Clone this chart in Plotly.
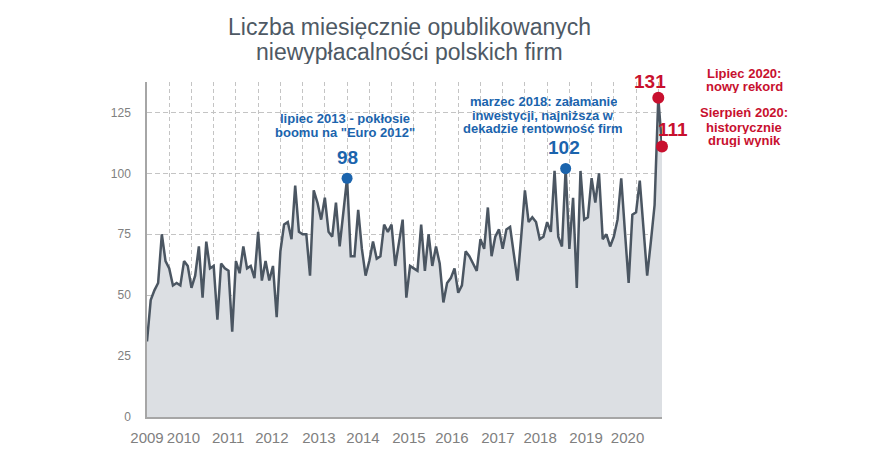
import plotly.graph_objects as go

# Monthly number of published insolvencies, Jan 2009 .. Aug 2020
values = [
    31, 48, 52, 55, 75, 64, 61, 54, 55, 54, 64, 62, 53, 58, 70, 49, 72, 61, 62, 40, 63, 61, 60, 35,
    64, 59, 70, 61, 62, 57, 76, 56, 64, 56, 62, 41, 68, 79, 80, 73, 95, 76, 75, 75, 58, 93, 88,
    81, 90, 76, 74, 88, 70, 84, 98, 66, 66, 85, 69, 58, 64, 72, 65, 66, 79, 76, 79, 62, 72, 81, 49,
    62, 61, 60, 79, 60, 75, 62, 70, 63, 47, 55, 57, 61, 51, 54, 68, 66, 63, 60, 73, 69, 86, 66, 74,
    77, 69, 77, 78, 67, 56,
    74, 93, 80, 82, 80, 73, 74, 80, 76, 101, 74, 70, 102, 69, 90, 53, 101, 81, 82, 98, 88, 100, 73,
    75, 70, 74, 81, 98, 76, 55, 83, 84, 97, 76, 58, 72, 87, 131, 111,
]
months = list(range(len(values)))

year_labels = ["2009", "2010", "2011", "2012", "2013", "2014", "2015", "2016",
               "2017", "2018", "2019", "2020"]
year_label_pos = [0, 9.85, 21.9, 33.7, 46.4, 58.3, 70.7, 82.3, 94.7, 106.1, 118.5, 129.7]

y_ticks = [0, 25, 50, 75, 100, 125]

blue_idx = [54, 113]          # lipiec 2013, marzec 2018
blue_labels = ["98", "102"]
red_idx = [138, 139]          # lipiec 2020, sierpień 2020
red_labels = ["131", "111"]

title_lines = ["Liczba miesięcznie opublikowanych", "niewypłacalności polskich firm"]
note_2013 = ["lipiec 2013 - pokłosie", "boomu na \"Euro 2012\""]
note_2018 = ["marzec 2018: załamanie", "inwestycji, najniższa w", "dekadzie rentowność firm"]
note_jul20 = ["Lipiec 2020:", "nowy rekord"]
note_aug20 = ["Sierpień 2020:", "historycznie", "drugi wynik"]

BLUE = "#1b64ad"
RED = "#c8102e"
LINE = "#4b5662"
FILL = "#dcdfe3"
GRID = "#c4c4c4"
AXIS = "#a6a6a6"
TXT = "#808080"
FONT = "Liberation Sans, Arial, sans-serif"

# the page body has an 8px margin, so the figure is drawn 8px right/down
OFF = 8
W, H = 896 - OFF, 472 - OFF
ML, MT = 147 - OFF, 82 - OFF
MR = W - (662 - OFF)
MB = H - (417 - OFF)
PW = W - ML - MR
PH = H - MT - MB


def pp(x, y):
    """screen pixel -> paper coordinates"""
    x -= OFF
    y -= OFF
    return (x - ML) / PW, (H - MB - y) / PH


fig = go.Figure()
fig.add_trace(go.Scatter(
    x=months, y=values, mode="lines", fill="tozeroy",
    fillcolor=FILL, line=dict(color=LINE, width=2.5), hoverinfo="skip",
))
fig.add_trace(go.Scatter(
    x=blue_idx, y=[values[i] for i in blue_idx], mode="markers",
    marker=dict(color=BLUE, size=11), cliponaxis=False, hoverinfo="skip",
))
fig.add_trace(go.Scatter(
    x=red_idx, y=[values[i] for i in red_idx], mode="markers",
    marker=dict(color=RED, size=12), cliponaxis=False, hoverinfo="skip",
))

ann = []
# title
for line, yc in zip(title_lines, [27, 52]):
    x, y = pp(409, yc)
    ann.append(dict(text=line, x=x, y=y, xref="paper", yref="paper", showarrow=False,
                    xanchor="center", yanchor="middle", height=24,
                    font=dict(family=FONT, size=23, color="#4e5964")))


def block(lines, xc, ys, color):
    for line, yc in zip(lines, ys):
        x, y = pp(xc, yc)
        ann.append(dict(text="<b>%s</b>" % line, x=x, y=y, xref="paper", yref="paper",
                        showarrow=False, xanchor="center", yanchor="middle", height=13,
                        font=dict(family=FONT, size=13, color=color)))


block(note_2013, 345, [118, 132], BLUE)
block(note_2018, 543, [102, 115, 128.5], BLUE)
block(note_jul20, 744, [73, 86], RED)
block(note_aug20, 744, [113, 127, 140.5], RED)

shifts = {54: (0, 21), 113: (-2, 21), 138: (-8, 16), 139: (11, 17)}
for idx_list, labels, color in [(blue_idx, blue_labels, BLUE), (red_idx, red_labels, RED)]:
    for i, lab in zip(idx_list, labels):
        xs, ys = shifts[i]
        ann.append(dict(text="<b>%s</b>" % lab, x=i, y=values[i], xref="x", yref="y",
                        showarrow=False, xanchor="center", yanchor="middle",
                        xshift=xs, yshift=ys,
                        font=dict(family=FONT, size=19, color=color)))

fig.update_layout(
    width=W, height=H,
    margin=dict(l=ML, r=MR, t=MT, b=MB),
    paper_bgcolor="white", plot_bgcolor="white",
    showlegend=False,
    font=dict(family=FONT, color=TXT),
    annotations=ann,
    xaxis=dict(
        range=[0, len(values) - 1],
        tickmode="array", tickvals=year_label_pos, ticktext=year_labels,
        showgrid=False, zeroline=False,
        showline=True, linecolor=AXIS, linewidth=1.5,
        ticks="", ticklabelstandoff=6,
        tickfont=dict(family=FONT, size=15, color=TXT),
        minor=dict(tickmode="array", tickvals=list(range(0, len(values), 6)),
                   showgrid=True, gridcolor=GRID, gridwidth=1, griddash="4px,3px", ticks=""),
        fixedrange=True,
    ),
    yaxis=dict(
        range=[0, 137.5],
        tickmode="array", tickvals=y_ticks,
        showgrid=True, gridcolor=GRID, gridwidth=1, griddash="5px,3px",
        zeroline=False,
        showline=True, linecolor=AXIS, linewidth=1.5,
        ticks="", ticklabelstandoff=12,
        tickfont=dict(family=FONT, size=12, color=TXT),
        fixedrange=True,
    ),
)

fig.write_html("out.html")
